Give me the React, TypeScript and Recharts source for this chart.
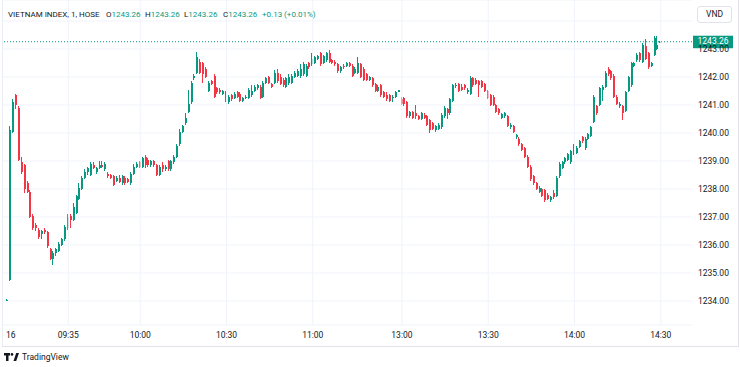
import React from 'react';
import { ComposedChart, Bar, XAxis, YAxis, CartesianGrid, ReferenceLine } from 'recharts';

// 1-minute candles, [open, high, low, close]
const prevDayCandles = [[1234.02, 1234.06, 1234.0, 1234.04]];

// 09:15 .. 11:30
const morningCandles = [
  [1234.75, 1240.25, 1234.7, 1240.1], [1240.05, 1241.2, 1240.0, 1241.1], [1241.35, 1241.4, 1240.85, 1241.0], [1240.9, 1240.95, 1239.0, 1239.05], [1238.95, 1239.15, 1238.55, 1238.6],
  [1238.85, 1238.9, 1237.85, 1238.0], [1238.2, 1238.3, 1237.85, 1237.9], [1237.9, 1237.95, 1236.95, 1237.0], [1237.05, 1237.1, 1236.55, 1236.6], [1236.7, 1236.8, 1236.5, 1236.6],
  [1236.55, 1236.6, 1236.2, 1236.3], [1236.4, 1236.55, 1236.2, 1236.5], [1236.55, 1236.6, 1236.4, 1236.45], [1236.45, 1236.5, 1235.9, 1235.95], [1235.85, 1235.9, 1235.45, 1235.5],
  [1235.5, 1235.8, 1235.3, 1235.7], [1235.7, 1235.9, 1235.6, 1235.85], [1235.8, 1236.1, 1235.75, 1236.05], [1236.0, 1236.25, 1235.95, 1236.2], [1236.2, 1236.7, 1236.15, 1236.65],
  [1236.6, 1237.1, 1236.55, 1237.0], [1237.05, 1237.1, 1236.6, 1236.9], [1236.9, 1237.5, 1236.85, 1237.35], [1237.15, 1237.8, 1237.1, 1237.75], [1237.65, 1238.2, 1237.6, 1238.05],
  [1238.0, 1238.45, 1237.95, 1238.4], [1238.4, 1238.7, 1238.35, 1238.6], [1238.6, 1238.8, 1238.5, 1238.75], [1238.5, 1238.95, 1238.45, 1238.9], [1238.85, 1238.95, 1238.7, 1238.75],
  [1238.6, 1238.8, 1238.55, 1238.75], [1238.75, 1239.0, 1238.7, 1238.85], [1238.85, 1239.0, 1238.75, 1238.8], [1238.7, 1238.95, 1238.65, 1238.9], [1238.55, 1238.6, 1238.4, 1238.45],
  [1238.5, 1238.55, 1238.35, 1238.4], [1238.45, 1238.5, 1238.1, 1238.15], [1238.3, 1238.45, 1238.25, 1238.38], [1238.4, 1238.5, 1238.2, 1238.25], [1238.2, 1238.5, 1238.15, 1238.45],
  [1238.4, 1238.45, 1238.15, 1238.2], [1238.35, 1238.4, 1238.2, 1238.25], [1238.2, 1238.6, 1238.15, 1238.55], [1238.55, 1238.9, 1238.5, 1238.8], [1238.8, 1238.95, 1238.75, 1238.9],
  [1238.95, 1239.0, 1238.75, 1238.8], [1238.8, 1239.15, 1238.75, 1239.1], [1239.15, 1239.2, 1238.75, 1238.85], [1239.05, 1239.1, 1238.8, 1238.85], [1238.85, 1239.05, 1238.8, 1239.0],
  [1239.0, 1239.05, 1238.8, 1238.85], [1238.85, 1238.9, 1238.45, 1238.5], [1238.5, 1238.85, 1238.45, 1238.8], [1238.85, 1238.95, 1238.6, 1238.7], [1238.7, 1238.85, 1238.65, 1238.8],
  [1239.0, 1239.05, 1238.65, 1238.7], [1238.7, 1239.05, 1238.65, 1239.0], [1238.95, 1239.2, 1238.9, 1239.15], [1239.15, 1239.6, 1239.1, 1239.55], [1239.6, 1240.15, 1239.55, 1240.05],
  [1240.05, 1240.3, 1240.0, 1240.25], [1240.35, 1240.7, 1240.3, 1240.55], [1240.75, 1241.55, 1240.7, 1241.05], [1241.1, 1241.85, 1241.05, 1241.8], [1241.95, 1242.1, 1241.9, 1242.05],
  [1242.15, 1242.9, 1242.1, 1242.7], [1242.55, 1242.65, 1242.1, 1242.15], [1242.5, 1242.55, 1241.8, 1242.1], [1242.3, 1242.35, 1241.95, 1242.0], [1241.5, 1241.85, 1241.45, 1241.8],
  [1241.85, 1241.9, 1241.7, 1241.75], [1242.05, 1242.1, 1241.25, 1241.3], [1241.6, 1241.65, 1241.4, 1241.45], [1241.55, 1241.6, 1241.4, 1241.45], [1241.4, 1241.55, 1241.35, 1241.5],
  [1241.4, 1241.5, 1241.1, 1241.15], [1241.1, 1241.35, 1241.05, 1241.3], [1241.35, 1241.4, 1241.15, 1241.2], [1241.25, 1241.45, 1241.2, 1241.4], [1241.45, 1241.5, 1241.25, 1241.3],
  [1241.4, 1241.45, 1241.1, 1241.15], [1241.15, 1241.3, 1241.1, 1241.25], [1241.25, 1241.35, 1241.2, 1241.3], [1241.25, 1241.6, 1241.2, 1241.55], [1241.35, 1241.7, 1241.3, 1241.5],
  [1241.5, 1241.7, 1241.45, 1241.65], [1241.6, 1241.75, 1241.55, 1241.7], [1241.65, 1241.7, 1241.2, 1241.25], [1241.3, 1241.85, 1241.25, 1241.8], [1241.8, 1242.0, 1241.75, 1241.95],
  [1242.0, 1242.05, 1241.75, 1241.8], [1241.75, 1241.8, 1241.6, 1241.65], [1241.8, 1242.25, 1241.75, 1242.15], [1242.15, 1242.3, 1241.8, 1241.85], [1242.0, 1242.1, 1241.7, 1241.75],
  [1241.9, 1241.95, 1241.65, 1241.7], [1241.65, 1242.0, 1241.6, 1241.95], [1241.8, 1242.1, 1241.7, 1242.0], [1241.8, 1242.1, 1241.75, 1242.05], [1242.0, 1242.2, 1241.95, 1242.15],
  [1242.05, 1242.3, 1242.0, 1242.2], [1242.05, 1242.45, 1241.95, 1242.3], [1242.1, 1242.55, 1242.05, 1242.45], [1242.05, 1242.45, 1242.0, 1242.4], [1242.5, 1242.55, 1242.3, 1242.35],
  [1242.45, 1242.85, 1242.4, 1242.65], [1242.5, 1242.75, 1242.45, 1242.7], [1242.65, 1242.8, 1242.6, 1242.75], [1242.85, 1242.9, 1242.4, 1242.45], [1242.5, 1242.8, 1242.45, 1242.75],
  [1242.6, 1242.9, 1242.55, 1242.85], [1242.85, 1242.95, 1242.5, 1242.55], [1242.6, 1242.65, 1242.45, 1242.5], [1242.55, 1242.6, 1242.4, 1242.45], [1242.45, 1242.5, 1242.15, 1242.2],
  [1242.2, 1242.4, 1242.15, 1242.35], [1242.4, 1242.45, 1242.3, 1242.35], [1242.4, 1242.55, 1242.35, 1242.5], [1242.5, 1242.55, 1242.35, 1242.4], [1242.4, 1242.45, 1242.0, 1242.05],
  [1242.15, 1242.35, 1242.1, 1242.3], [1242.15, 1242.7, 1242.1, 1242.5], [1242.45, 1242.5, 1241.95, 1242.0], [1242.3, 1242.35, 1241.85, 1241.9], [1242.1, 1242.15, 1241.85, 1241.9],
  [1241.9, 1242.05, 1241.85, 1242.0], [1241.95, 1242.0, 1241.65, 1241.7], [1241.75, 1241.8, 1241.45, 1241.5], [1241.5, 1241.7, 1241.45, 1241.65], [1241.7, 1241.75, 1241.3, 1241.35],
  [1241.45, 1241.5, 1241.25, 1241.3], [1241.35, 1241.45, 1241.15, 1241.2], [1241.35, 1241.4, 1241.1, 1241.15], [1241.25, 1241.35, 1241.1, 1241.3], [1241.3, 1241.5, 1241.25, 1241.45],
  [1241.48, 1241.55, 1241.45, 1241.52],
];

// 13:00 .. 14:30
const afternoonCandles = [
  [1241.2, 1241.3, 1241.0, 1241.05], [1241.25, 1241.3, 1240.95, 1241.05], [1241.1, 1241.15, 1240.55, 1240.6], [1240.6, 1240.8, 1240.55, 1240.75], [1240.75, 1240.8, 1240.5, 1240.55],
  [1240.7, 1241.0, 1240.5, 1240.6], [1240.6, 1240.65, 1240.45, 1240.5], [1240.5, 1240.75, 1240.45, 1240.7], [1240.65, 1240.7, 1240.5, 1240.55], [1240.6, 1240.65, 1240.25, 1240.3],
  [1240.45, 1240.5, 1240.0, 1240.1], [1240.35, 1240.4, 1240.1, 1240.15], [1240.1, 1240.3, 1240.05, 1240.25], [1240.15, 1240.35, 1240.1, 1240.3], [1240.2, 1240.7, 1240.15, 1240.65],
  [1240.6, 1240.95, 1240.55, 1240.9], [1240.85, 1240.9, 1240.5, 1240.7], [1240.7, 1241.25, 1240.65, 1241.2], [1241.15, 1241.75, 1241.1, 1241.7], [1241.7, 1241.8, 1241.6, 1241.72],
  [1241.75, 1241.8, 1241.45, 1241.5], [1241.65, 1241.75, 1241.5, 1241.55], [1241.7, 1241.75, 1241.55, 1241.6], [1241.45, 1241.6, 1241.4, 1241.55], [1241.4, 1242.05, 1241.35, 1241.95],
  [1241.95, 1242.0, 1241.65, 1241.7], [1241.9, 1241.95, 1241.7, 1241.75], [1241.85, 1241.9, 1241.3, 1241.7], [1241.85, 1241.9, 1241.6, 1241.65], [1241.75, 1241.8, 1241.45, 1241.5],
  [1241.5, 1241.55, 1241.2, 1241.25], [1241.35, 1241.4, 1240.95, 1241.0], [1241.3, 1241.35, 1240.95, 1241.0], [1241.0, 1241.05, 1240.7, 1240.75], [1240.85, 1240.9, 1240.65, 1240.7],
  [1240.55, 1240.7, 1240.5, 1240.68], [1240.6, 1240.75, 1240.55, 1240.7], [1240.6, 1240.65, 1240.2, 1240.25], [1240.2, 1240.37, 1240.15, 1240.3], [1240.25, 1240.3, 1240.0, 1240.05],
  [1239.86, 1239.95, 1239.8, 1239.93], [1239.8, 1239.85, 1239.55, 1239.6], [1239.6, 1239.65, 1239.35, 1239.4], [1239.45, 1239.5, 1239.1, 1239.15], [1239.15, 1239.2, 1238.75, 1238.8],
  [1238.8, 1238.85, 1238.3, 1238.35], [1238.45, 1238.5, 1238.15, 1238.2], [1238.2, 1238.25, 1237.95, 1238.0], [1237.9, 1238.1, 1237.85, 1238.05], [1238.0, 1238.05, 1237.7, 1237.75],
  [1237.95, 1238.0, 1237.55, 1237.6], [1237.8, 1237.85, 1237.6, 1237.65], [1237.6, 1237.75, 1237.55, 1237.7], [1237.85, 1237.95, 1237.65, 1237.7], [1237.75, 1238.45, 1237.7, 1238.4],
  [1238.45, 1238.95, 1238.4, 1238.9], [1238.75, 1239.0, 1238.7, 1238.95], [1238.95, 1239.15, 1238.9, 1239.1], [1239.05, 1239.3, 1239.0, 1239.25], [1238.95, 1239.4, 1238.9, 1239.35],
  [1239.25, 1239.6, 1239.2, 1239.55], [1239.3, 1239.55, 1239.25, 1239.45], [1239.5, 1239.75, 1239.45, 1239.7], [1239.85, 1239.9, 1239.65, 1239.7], [1239.45, 1239.85, 1239.4, 1239.8],
  [1239.8, 1240.0, 1239.75, 1239.95], [1239.9, 1240.25, 1239.85, 1240.2], [1240.4, 1241.35, 1240.35, 1241.3], [1240.95, 1241.0, 1240.65, 1240.7], [1241.0, 1241.65, 1240.95, 1241.6],
  [1241.55, 1241.7, 1241.15, 1241.65], [1241.65, 1242.2, 1241.6, 1242.15], [1242.3, 1242.35, 1242.05, 1242.1], [1242.2, 1242.25, 1241.9, 1241.95], [1242.05, 1242.1, 1241.25, 1241.3],
  [1241.3, 1241.35, 1241.0, 1241.05], [1240.95, 1241.1, 1240.9, 1241.05], [1240.95, 1241.0, 1240.45, 1240.7], [1240.8, 1241.5, 1240.75, 1241.45], [1241.5, 1242.05, 1241.45, 1242.0],
  [1241.7, 1242.55, 1241.65, 1242.5], [1242.4, 1242.55, 1242.35, 1242.5], [1242.6, 1242.85, 1242.55, 1242.8], [1242.85, 1242.9, 1242.55, 1242.6], [1242.55, 1243.2, 1242.5, 1243.15],
  [1243.1, 1243.35, 1242.6, 1242.65], [1242.85, 1242.9, 1242.3, 1242.35], [1242.4, 1242.55, 1242.35, 1242.5], [1242.8, 1243.45, 1242.75, 1243.4], [1243.0, 1243.45, 1242.95, 1243.13],
  [1243.25, 1243.28, 1243.24, 1243.26],
];

// bar index of each time label (09:15 = 0, lunch break skipped)
const timeTicks = [0, 20, 45, 75, 105, 136, 166, 196, 226];
const timeTickLabels = ['16', '09:35', '10:00', '10:30', '11:00', '13:00', '13:30', '14:00', '14:30'];
const priceTicks = [1234, 1235, 1236, 1237, 1238, 1239, 1240, 1241, 1242, 1243];
const hiddenGridPrice = 1244; // grid row whose label sits under the currency button
const lastPrice = 1243.26;

const UP = '#089981';
const DOWN = '#f23645';
const TEXT = '#131722';
const GRID = '#f0f3fa';
const FONT = 'Roboto, "Liberation Sans", sans-serif';

const allCandles = [...prevDayCandles, ...morningCandles, ...afternoonCandles];
const data = allCandles.map(([open, high, low, close], i) => ({
  idx: i - prevDayCandles.length,
  open, high, low, close,
  range: [low, high],
}));

function Candle(props: any) {
  const { x, y, width, height, payload } = props;
  if (x == null || y == null || !payload) return null;
  const { open, high, low, close } = payload;
  const color = close >= open ? UP : DOWN;
  const top = Math.min(y, y + height);
  const bottom = Math.max(y, y + height);
  const k = (bottom - top) / (high - low);
  const yO = top + (high - open) * k;
  const yC = top + (high - close) * k;
  const bodyTop = Math.min(yO, yC);
  const bodyH = Math.max(1, Math.abs(yO - yC));
  const cx = Math.round(x + width / 2);
  return (
    <g shapeRendering="crispEdges">
      <rect x={cx - 1} y={top} width={1} height={Math.max(1, bottom - top)} fill={color} />
      <rect x={cx - 1} y={bodyTop} width={2} height={bodyH} fill={color} />
    </g>
  );
}

function PriceTag(props: any) {
  const vb = props.viewBox;
  if (!vb) return null;
  const left = vb.x + vb.width + 1;
  return (
    <g>
      <rect x={left} y={vb.y - 6} width={40} height={12.5} fill={UP} />
      <text x={left + 20} y={vb.y + 0.5} textAnchor="middle" dominantBaseline="middle" fill="#fff" fontSize={8.5} fontFamily={FONT}>
        {lastPrice.toFixed(2)}
      </text>
    </g>
  );
}

const legendStyle: React.CSSProperties = {
  position: 'absolute', top: 10, fontSize: 8, lineHeight: '10px', color: TEXT, whiteSpace: 'nowrap',
};

export default function App() {
  return (
    <div style={{ position: 'relative', width: 740, height: 367, background: '#fff', fontFamily: FONT }}>
      <style>{'body{margin:0}'}</style>
      <ComposedChart width={740} height={367} data={data} margin={{ top: 0, right: 0, bottom: 0, left: 3 }}>
        <CartesianGrid stroke={GRID} vertical={false} />
        <XAxis
          type="number"
          dataKey="idx"
          domain={[-2.71, 236.85]}
          allowDataOverflow
          ticks={timeTicks}
          interval={0}
          tickFormatter={(v: number) => timeTickLabels[timeTicks.indexOf(v)] ?? ''}
          axisLine={false}
          tickLine={false}
          tickSize={0}
          tickMargin={7}
          height={42}
          tick={{ fontSize: 8.5, fill: TEXT, fontFamily: FONT }}
        />
        <YAxis
          orientation="right"
          domain={[1233.143, 1244.75]}
          allowDataOverflow
          ticks={priceTicks}
          interval={0}
          tickFormatter={(v: number) => v.toFixed(2)}
          width={48}
          axisLine={false}
          tickLine={false}
          tickSize={0}
          tickMargin={6}
          tick={{ fontSize: 8.5, fill: TEXT, fontFamily: FONT }}
        />
        <ReferenceLine y={hiddenGridPrice} stroke={GRID} />
        {timeTicks.slice(1).map((t) => (
          <ReferenceLine key={t} x={t} stroke={GRID} />
        ))}
        <ReferenceLine y={lastPrice} stroke={UP} strokeDasharray="1 2" label={<PriceTag />} />
        <Bar dataKey="range" shape={<Candle />} barSize={2} isAnimationActive={false} />
      </ComposedChart>

      {/* legend line */}
      <div style={{ ...legendStyle, left: 8 }}>VIETNAM INDEX, 1, HOSE</div>
      {[['O', 106], ['H', 145], ['L', 184], ['C', 223]].map(([k, left]) => (
        <div key={k as string} style={{ ...legendStyle, left: left as number }}>
          {k}<span style={{ color: UP }}>{lastPrice.toFixed(2)}</span>
        </div>
      ))}
      <div style={{ ...legendStyle, left: 262, color: UP }}>+0.13 (+0.01%)</div>

      {/* currency button */}
      <div style={{ position: 'absolute', left: 697, top: 6, width: 33, height: 15, border: '1px solid #e0e3eb', borderRadius: 3, background: '#fff', fontSize: 8.5, lineHeight: '15px', textAlign: 'center', color: TEXT }}>
        VND
      </div>

      {/* frame */}
      <div style={{ position: 'absolute', left: 2, top: 0, width: 735, height: 346, borderLeft: '1px solid #e9ecf2', borderRight: '1px solid #e0e3eb', borderBottom: '1px solid #e0e3eb', pointerEvents: 'none' }} />

      {/* branding */}
      <div style={{ position: 'absolute', left: 4, top: 352, display: 'flex', alignItems: 'center', gap: 3, fontSize: 8.5, color: TEXT }}>
        <svg width={15} height={8} viewBox="0 0 15 8">
          <rect x={0} y={0} width={6} height={2.5} fill={TEXT} />
          <rect x={2} y={0} width={2.5} height={8} fill={TEXT} />
          <circle cx={8} cy={1.4} r={1.3} fill={TEXT} />
          <polygon points="9.5,8 12.2,0 15,0 12.2,8" fill={TEXT} />
        </svg>
        <span>TradingView</span>
      </div>
    </div>
  );
}
